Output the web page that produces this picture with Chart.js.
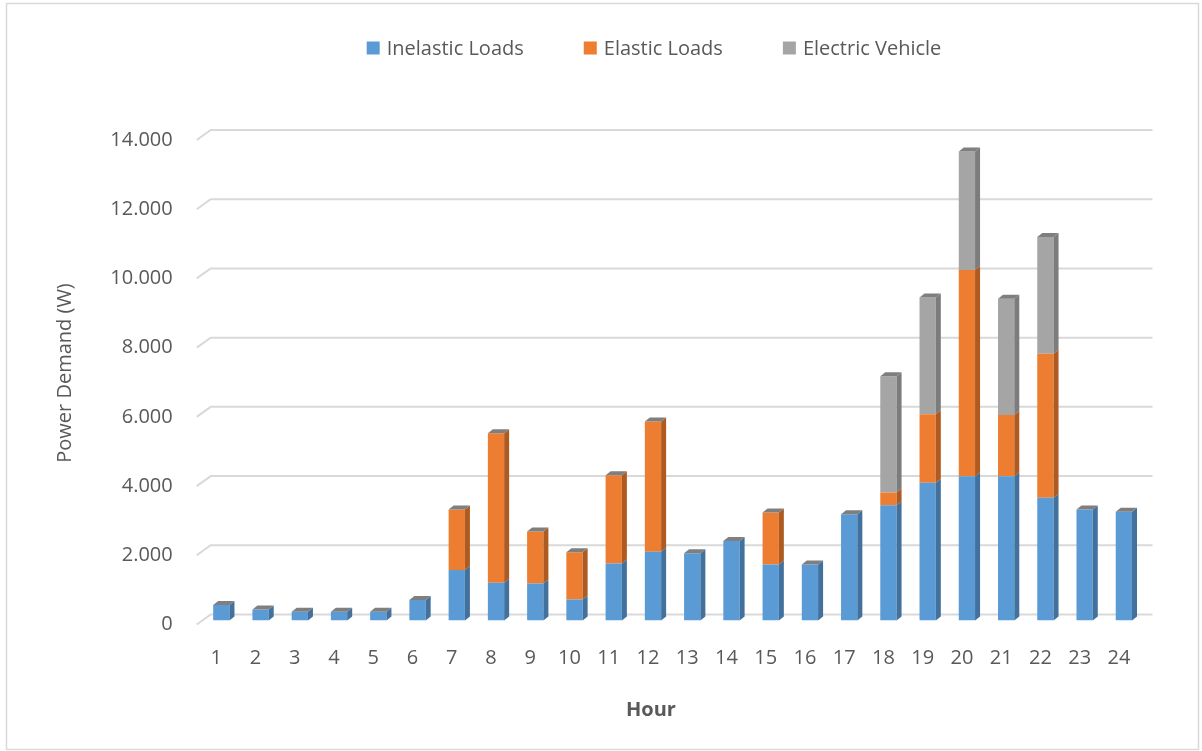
<!DOCTYPE html>
<html>
<head>
<meta charset="utf-8">
<title>Power Demand per Hour</title>
<script src="https://cdn.jsdelivr.net/npm/chart.js@4.4.1/dist/chart.umd.min.js"></script>
<style>
  html, body { margin: 0; padding: 0; background: #ffffff; }
  canvas { display: block; }
</style>
</head>
<body>
<canvas id="demand" width="1202" height="751"></canvas>
<script>
// ---- data ----
const hours = ['1','2','3','4','5','6','7','8','9','10','11','12','13','14','15','16','17','18','19','20','21','22','23','24'];
const inelasticLoads = [450, 320, 250, 250, 250, 590, 1460, 1090, 1070, 610, 1650, 1990, 1940, 2300, 1620, 1620, 3070, 3330, 3980, 4170, 4170, 3550, 3210, 3140];
const elasticLoads   = [0, 0, 0, 0, 0, 0, 1750, 4320, 1500, 1360, 2550, 3760, 0, 0, 1500, 0, 0, 370, 1980, 5960, 1770, 4160, 0, 0];
const electricVehicle = [0, 0, 0, 0, 0, 0, 0, 0, 0, 0, 0, 0, 0, 0, 0, 0, 0, 3360, 3370, 3420, 3360, 3370, 0, 0];
const seriesNames = ['Inelastic Loads', 'Elastic Loads', 'Electric Vehicle'];
const yMax = 14000;
const yStep = 2000;

// ---- styling ----
const FONT = "'Open Sans', 'Noto Sans', sans-serif";
const TEXT = '#595959';
const GRID = '#d9d9d9';
const FRONT = ['#5b9bd5', '#ed7d31', '#a5a5a5'];
const SIDE  = ['#41719c', '#ae5a21', '#7c7c7c'];
const CAP   = '#7f7f7f';
const BAR_DEPTH = { dx: 5, dy: 4 };      // extrusion of each column
const WALL_BACK = { dx: 9, dy: -6 };     // back wall relative to column plane
const WALL_FRONT = { dx: -5, dy: 4 };    // front edge of the floor

function thousands(v) {
  return String(v).replace(/\B(?=(\d{3})+(?!\d))/g, '.');
}

// white page with a thin chart border
const chartFrame = {
  id: 'chartFrame',
  beforeDraw(chart) {
    const { ctx } = chart;
    ctx.save();
    ctx.fillStyle = '#ffffff';
    ctx.fillRect(0, 0, chart.width, chart.height);
    ctx.strokeStyle = GRID;
    ctx.lineWidth = 1.5;
    ctx.strokeRect(6.5, 3.5, 1192, 746);
    ctx.restore();
  }
};

// gridlines on the back wall plus the short floor/wall edge on the left
const wallGrid = {
  id: 'wallGrid',
  beforeDatasetsDraw(chart) {
    const { ctx, chartArea: a, scales: { y } } = chart;
    ctx.save();
    ctx.strokeStyle = GRID;
    ctx.lineWidth = 2;
    y.ticks.forEach(t => {
      const py = y.getPixelForValue(t.value);
      ctx.beginPath();
      ctx.moveTo(a.left + WALL_FRONT.dx, py + WALL_FRONT.dy);
      ctx.lineTo(a.left + WALL_BACK.dx, py + WALL_BACK.dy);
      ctx.lineTo(a.right + WALL_BACK.dx, py + WALL_BACK.dy);
      ctx.stroke();
    });
    ctx.restore();
  }
};

// side faces of every segment and the top face of each stack
const columnFaces = {
  id: 'columnFaces',
  afterDatasetsDraw(chart) {
    const { ctx } = chart;
    const { dx, dy } = BAR_DEPTH;
    const sets = chart.data.datasets;
    const metas = sets.map((d, i) => chart.getDatasetMeta(i));
    ctx.save();
    for (let j = 0; j < chart.data.labels.length; j++) {
      let top = null;
      metas.forEach((m, i) => {
        if (!sets[i].data[j]) return;
        const { x, y, base, width } = m.data[j].getProps(['x', 'y', 'base', 'width'], true);
        const r = x + width / 2;
        ctx.fillStyle = sets[i].sideColor;
        ctx.beginPath();
        ctx.moveTo(r, y);
        ctx.lineTo(r + dx, y - dy);
        ctx.lineTo(r + dx, base - dy);
        ctx.lineTo(r, base);
        ctx.closePath();
        ctx.fill();
        top = { x, y, width };
      });
      if (top) {
        const l = top.x - top.width / 2, r = top.x + top.width / 2;
        ctx.fillStyle = CAP;
        ctx.beginPath();
        ctx.moveTo(l, top.y);
        ctx.lineTo(l + dx, top.y - dy);
        ctx.lineTo(r + dx, top.y - dy);
        ctx.lineTo(r, top.y);
        ctx.closePath();
        ctx.fill();
      }
    }
    ctx.restore();
  }
};

// legend row across the top
const legendRow = {
  id: 'legendRow',
  afterDraw(chart) {
    const { ctx } = chart;
    ctx.save();
    ctx.font = `20px ${FONT}`;
    ctx.textBaseline = 'middle';
    const box = 13, gap = 7, space = 60, cy = 48, cx = 654;
    const items = chart.data.datasets.map(d => ({ label: d.label, color: d.backgroundColor, w: ctx.measureText(d.label).width }));
    const total = items.reduce((s, it) => s + box + gap + it.w, 0) + space * (items.length - 1);
    let x = cx - total / 2;
    items.forEach(it => {
      ctx.fillStyle = it.color;
      ctx.fillRect(x, cy - 6.5, box, box);
      ctx.fillStyle = TEXT;
      ctx.fillText(it.label, x + box + gap, cy + 1);
      x += box + gap + it.w + space;
    });
    ctx.restore();
  }
};

// axis titles
const axisTitles = {
  id: 'axisTitles',
  afterDraw(chart) {
    const { ctx } = chart;
    ctx.save();
    ctx.fillStyle = TEXT;
    ctx.textAlign = 'center';
    ctx.textBaseline = 'middle';
    ctx.font = `bold 20px ${FONT}`;
    ctx.fillText('Hour', 651, 710);
    ctx.font = `20px ${FONT}`;
    ctx.translate(65, 373);
    ctx.rotate(-Math.PI / 2);
    ctx.fillText('Power Demand (W)', 0, 0);
    ctx.restore();
  }
};

function build() {
  Chart.defaults.font.family = FONT;
  Chart.defaults.font.size = 20;
  Chart.defaults.color = TEXT;

  const series = [inelasticLoads, elasticLoads, electricVehicle];
  new Chart(document.getElementById('demand'), {
    type: 'bar',
    data: {
      labels: hours,
      datasets: series.map((values, i) => ({
        label: seriesNames[i],
        data: values,
        backgroundColor: FRONT[i],
        sideColor: SIDE[i],
        borderWidth: 0,
        categoryPercentage: 1,
        barPercentage: 0.415
      }))
    },
    options: {
      responsive: false,
      animation: false,
      devicePixelRatio: 1,
      layout: { padding: { top: 136, right: 58.5, bottom: 0, left: 0 } },
      plugins: {
        legend: { display: false },
        tooltip: { enabled: false }
      },
      scales: {
        x: {
          stacked: true,
          grid: { display: false, drawTicks: false },
          border: { display: false },
          ticks: { color: TEXT, padding: 26, labelOffset: -5, maxRotation: 0, autoSkip: false },
          afterFit(s) { s.height = 130.5; }
        },
        y: {
          stacked: true,
          min: 0,
          max: yMax,
          grid: { display: false, drawTicks: false },
          border: { display: false },
          ticks: { color: TEXT, stepSize: yStep, padding: 29, labelOffset: 4, callback: v => thousands(v) },
          afterFit(s) { s.width = 201.7; }
        }
      }
    },
    plugins: [chartFrame, wallGrid, columnFaces, legendRow, axisTitles]
  });
}

if (document.fonts && document.fonts.load) {
  document.fonts.load(`20px 'Open Sans'`).then(build, build);
} else {
  build();
}
</script>
</body>
</html>
